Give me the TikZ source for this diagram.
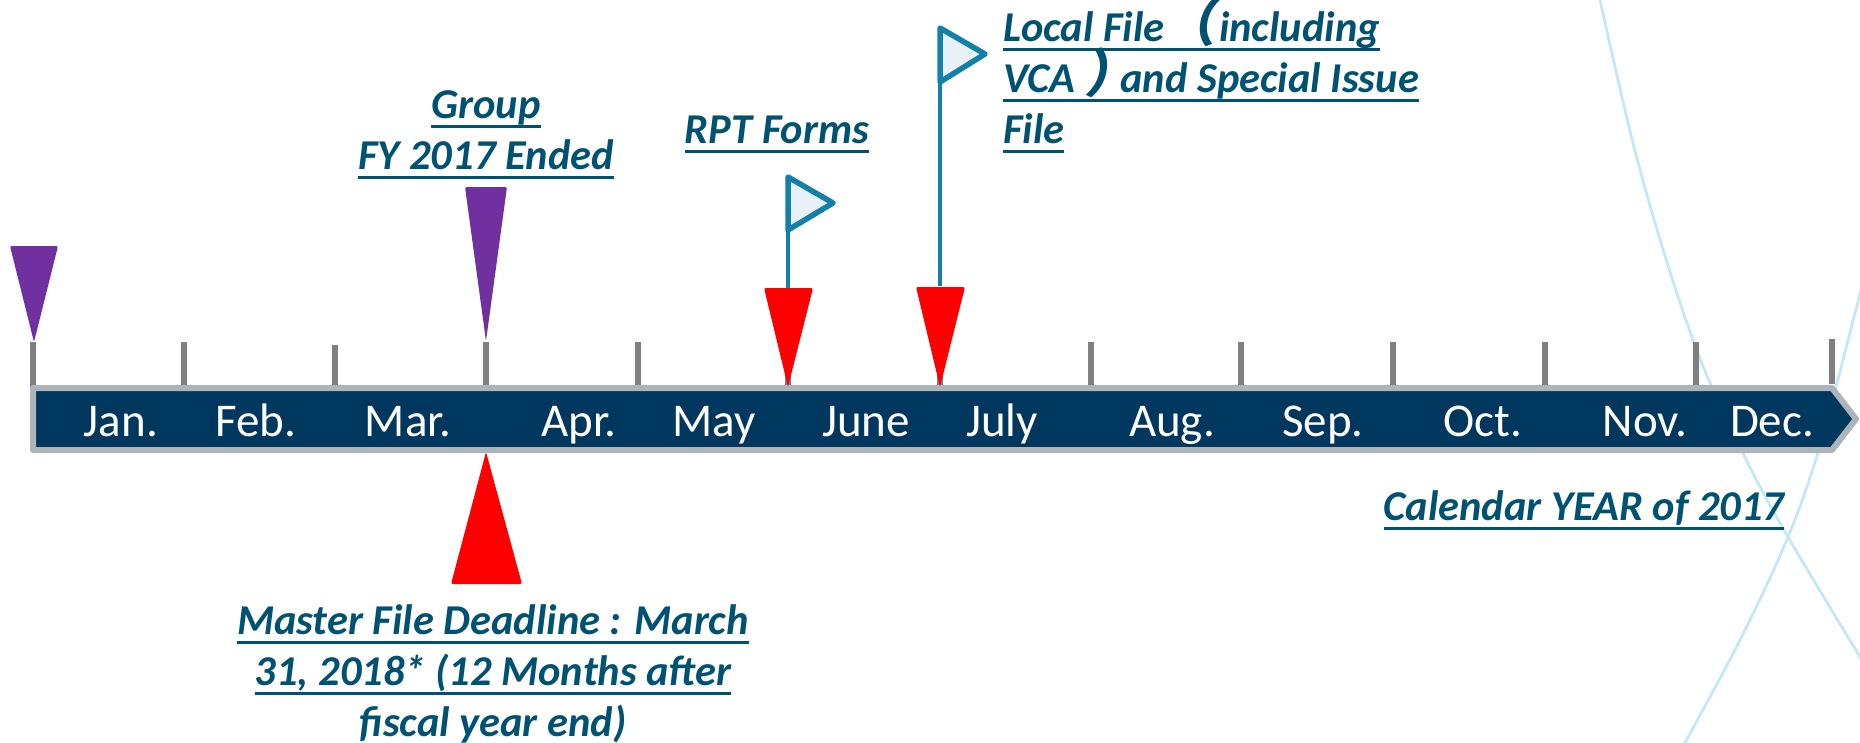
\documentclass[tikz,border=0pt]{standalone}
\usepackage{fontspec}
\setmainfont{Carlito}
\newfontfamily\cjkparen[FakeSlant=0.2]{Noto Sans CJK SC Bold}
\definecolor{barblue}{HTML}{00375F}
\definecolor{bargray}{HTML}{ADB5BA}
\definecolor{tickgray}{HTML}{808080}
\definecolor{labelblue}{HTML}{005273}
\definecolor{flagblue}{HTML}{1380A8}
\definecolor{flagfill}{HTML}{E8F0F8}
\definecolor{swoosh}{HTML}{C4E8F4}
\definecolor{markpurple}{HTML}{7030A0}
\newcommand\ulline[1]{\setbox0\hbox{#1}\leavevmode\rlap{\textcolor{labelblue}{\rule[-9.5pt]{\wd0}{2.6pt}}}\box0}
\newcommand\bigparen[1]{\smash{\fontsize{52}{51}\selectfont\cjkparen #1}}
\tikzset{
  x=1pt,y=-1pt,
  month/.style={anchor=base,inner sep=0,text=white,font=\fontsize{47}{54}\selectfont},
  note/.style={inner sep=0,text=labelblue,font=\fontsize{42.5}{51}\selectfont\bfseries\itshape},
  tickmark/.style={draw=tickgray,line width=5.5pt},
  purplemark/.style={fill=markpurple,rounded corners=2pt},
  redmark/.style={fill=red,rounded corners=2pt},
  flagpole/.style={draw=flagblue,line width=4pt},
  flaghead/.style={draw=flagblue,fill=flagfill,line width=5.5pt,line join=round},
  curve/.style={draw=swoosh,line width=2.8pt}
}
\begin{document}
\begin{tikzpicture}
\clip (0,0) rectangle (1860,742);
\fill[white] (0,0) rectangle (1860,742);
% background curves
\draw[curve] plot[smooth,tension=0.6] coordinates {(1599,-5) (1640,170) (1693,340) (1743,453) (1788,537) (1865,665)};
\draw[curve] plot[smooth,tension=0.6] coordinates {(1866,270) (1837,383) (1818,453) (1788,537) (1740,640) (1682,748)};
% ticks
\foreach \px/\pt/\pb in {33/342/388,184/342/388,335/345/390,486/342/388,638/342/388,788/342/388,940/342/388,1091/342/388,1241/342/388,1393/342/388,1545/342/388,1696/342/388,1832/339/384}
  \draw[tickmark] (\px,\pt) -- (\px,\pb);
% bar
\draw[draw=bargray,fill=barblue,line width=6pt,line join=round]
  (33,388) -- (1832,388) -- (1856,419) -- (1832,450) -- (33,450) -- cycle;
% months
\foreach \nm/\px/\lab in {jan/121/Jan.,feb/256/Feb.,mar/408/Mar.,apr/579/Apr.,may/714/May,jun/866/June,jul/1002/July,aug/1172/Aug.,sep/1323/Sep.,oct/1483/Oct.,nov/1645/Nov.,dec/1772/Dec.}
  \node[month] (\nm) at (\px,436) {\lab};
% markers
\fill[purplemark] (10,246) -- (58,246) -- (34,342) -- cycle;
\fill[purplemark] (465,187) -- (507,187) -- (486,341) -- cycle;
\fill[redmark] (486,452) -- (522,584) -- (451,584) -- cycle;
\fill[redmark] (764,288) -- (813,288) -- (788,387) -- cycle;
\fill[redmark] (916,287) -- (965,287) -- (940,387) -- cycle;
% flags
\coordinate (f1base) at (788,230);
\coordinate (f1foot) at (788,288);
\coordinate (f2base) at (940,82);
\coordinate (f2foot) at (940,286);
\draw[flagpole] (f1base) -- (f1foot);
\draw[flagpole] (f2base) -- (f2foot);
\draw[flaghead] (788,177) -- (833,203) -- (f1base) -- cycle;
\draw[flaghead] (940,28) -- (985,54) -- (f2base) -- cycle;
% labels
\node[note,align=center,anchor=base] (group) at (486,169.5)
  {\ulline{Group}\\\ulline{FY 2017 Ended}};
\node[note,anchor=base] (rpt) at (777,143.5) {\ulline{RPT Forms}};
\node[note,align=left,anchor=base west] (local) at (1003,143.5)
  {\ulline{Local File\ \kern-10.6pt\bigparen{（}\kern3.5pt including}\\\ulline{VCA\kern9pt\bigparen{）}\kern-16pt and Special Issue}\\\ulline{File}};
\node[note,anchor=base] (year) at (1584,520.5) {\ulline{Calendar YEAR of 2017}};
\node[note,align=center,anchor=base] (master) at (493,736.5)
  {\ulline{Master File Deadline : March}\\\ulline{31, 2018* (12 Months after}\\\ulline{fiscal year end)}};
\end{tikzpicture}
\end{document}
